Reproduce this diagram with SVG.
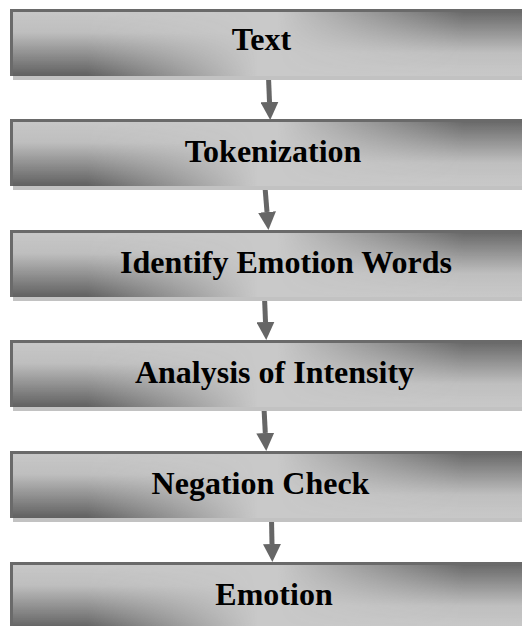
<svg xmlns="http://www.w3.org/2000/svg" width="522" height="626" viewBox="0 0 522 626">
<defs>
<style>
.shadow{fill:#c2c2c2}
.base{fill:#c9c9c9}
.ovA{fill:url(#vDown)}
.ovB{fill:url(#vUp)}
.edge{fill:none;stroke:#6a6a6a;stroke-width:3}
.lbl{font-family:"Liberation Serif","Times New Roman",serif;font-weight:bold;font-size:32px;fill:#000;text-anchor:middle}
.conn{stroke:#666;stroke-width:5;fill:none;marker-end:url(#head)}
</style>
<linearGradient id="vDown" x1="0" y1="0" x2="0" y2="1">
<stop offset="0" stop-color="#606060" stop-opacity="0"/>
<stop offset="0.35" stop-color="#606060" stop-opacity="0.1"/>
<stop offset="1" stop-color="#606060" stop-opacity="1"/>
</linearGradient>
<linearGradient id="vUp" x1="0" y1="0" x2="0" y2="1">
<stop offset="0" stop-color="#646464" stop-opacity="1"/>
<stop offset="0.65" stop-color="#646464" stop-opacity="0.1"/>
<stop offset="1" stop-color="#646464" stop-opacity="0"/>
</linearGradient>
<linearGradient id="hLeft" x1="0" y1="0" x2="1" y2="0">
<stop offset="0" stop-color="#fff"/>
<stop offset="0.15" stop-color="#fff"/>
<stop offset="0.48" stop-color="#000"/>
</linearGradient>
<linearGradient id="hRight" x1="0" y1="0" x2="1" y2="0">
<stop offset="0.52" stop-color="#000"/>
<stop offset="0.88" stop-color="#fff"/>
<stop offset="1" stop-color="#fff"/>
</linearGradient>
<mask id="mLeft" maskContentUnits="objectBoundingBox"><rect x="0" y="0" width="1" height="1" fill="url(#hLeft)"/></mask>
<mask id="mRight" maskContentUnits="objectBoundingBox"><rect x="0" y="0" width="1" height="1" fill="url(#hRight)"/></mask>
<marker id="head" viewBox="0 0 18 18" refX="0" refY="9" markerWidth="18" markerHeight="18" markerUnits="userSpaceOnUse" orient="auto">
<path d="M0,0 L18,9 L0,18 z" fill="#666"/>
</marker>
</defs>
<rect width="522" height="626" fill="#fff"/>

<g id="connectors">
<path class="conn" d="M268.5,77 L269.5,102"/>
<path class="conn" d="M265,187 L267,212"/>
<path class="conn" d="M264.5,297 L265.5,322"/>
<path class="conn" d="M264,408 L265.3,433"/>
<path class="conn" d="M271.5,519 L272,544"/>
</g>

<g id="n1">
<rect class="shadow" x="13" y="13" width="515" height="67"/>
<rect class="base" x="10" y="9" width="515" height="67"/>
<rect class="ovA" x="10" y="9" width="515" height="67" mask="url(#mLeft)"/>
<rect class="ovB" x="10" y="9" width="515" height="67" mask="url(#mRight)"/>
<path class="edge" d="M11.5,76 V10.5 H525"/>
<text class="lbl" x="261.5" y="50">Text</text>
</g>

<g id="n2">
<rect class="shadow" x="13" y="123" width="515" height="67"/>
<rect class="base" x="10" y="119" width="515" height="67"/>
<rect class="ovA" x="10" y="119" width="515" height="67" mask="url(#mLeft)"/>
<rect class="ovB" x="10" y="119" width="515" height="67" mask="url(#mRight)"/>
<path class="edge" d="M11.5,186 V120.5 H525"/>
<text class="lbl" x="273" y="162">Tokenization</text>
</g>

<g id="n3">
<rect class="shadow" x="13" y="234" width="515" height="67"/>
<rect class="base" x="10" y="230" width="515" height="67"/>
<rect class="ovA" x="10" y="230" width="515" height="67" mask="url(#mLeft)"/>
<rect class="ovB" x="10" y="230" width="515" height="67" mask="url(#mRight)"/>
<path class="edge" d="M11.5,297 V231.5 H525"/>
<text class="lbl" x="286" y="273">Identify Emotion Words</text>
</g>

<g id="n4">
<rect class="shadow" x="13" y="344" width="515" height="67"/>
<rect class="base" x="10" y="340" width="515" height="67"/>
<rect class="ovA" x="10" y="340" width="515" height="67" mask="url(#mLeft)"/>
<rect class="ovB" x="10" y="340" width="515" height="67" mask="url(#mRight)"/>
<path class="edge" d="M11.5,407 V341.5 H525"/>
<text class="lbl" x="274.5" y="383">Analysis of Intensity</text>
</g>

<g id="n5">
<rect class="shadow" x="13" y="455" width="515" height="67"/>
<rect class="base" x="10" y="451" width="515" height="67"/>
<rect class="ovA" x="10" y="451" width="515" height="67" mask="url(#mLeft)"/>
<rect class="ovB" x="10" y="451" width="515" height="67" mask="url(#mRight)"/>
<path class="edge" d="M11.5,518 V452.5 H525"/>
<text class="lbl" x="260.5" y="494">Negation Check</text>
</g>

<g id="n6">
<rect class="shadow" x="13" y="566" width="515" height="67"/>
<rect class="base" x="10" y="562" width="515" height="67"/>
<rect class="ovA" x="10" y="562" width="515" height="67" mask="url(#mLeft)"/>
<rect class="ovB" x="10" y="562" width="515" height="67" mask="url(#mRight)"/>
<path class="edge" d="M11.5,629 V563.5 H525"/>
<text class="lbl" x="274" y="605">Emotion</text>
</g>
</svg>
